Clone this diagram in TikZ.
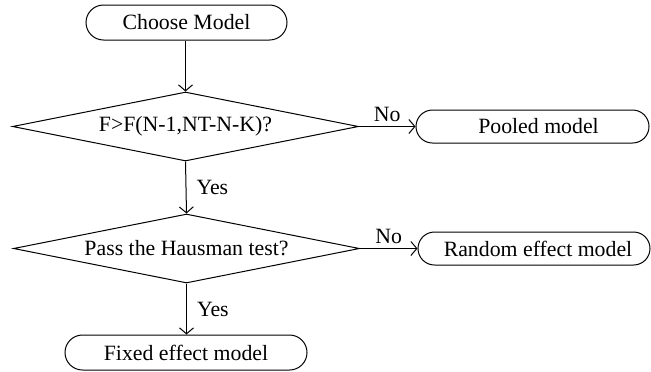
\documentclass[tikz,border=0pt]{standalone}
\usepackage{fontspec}
\setmainfont{Liberation Serif}
\usetikzlibrary{shapes.geometric,shapes.misc,arrows.meta}
\begin{document}
\begin{tikzpicture}[x=0.5pt,y=-0.5pt,
  every node/.style={font=\fontsize{10.9}{13}\selectfont},
  term/.style={draw,rounded rectangle,line width=0.5pt,inner sep=0pt},
  decision/.style={draw,diamond,aspect=5,line width=0.5pt,inner sep=0pt,
    minimum width=173pt,minimum height=34.5pt},
  flow/.style={draw,line width=0.5pt,-{Straight Barb[length=3pt,width=7pt]}},
  lbl/.style={inner sep=2pt}]
\useasboundingbox (0,0) rectangle (651,371);
\node[term,minimum width=100.5pt,minimum height=17.5pt] (start) at (186.5,22.5) {Choose Model};
\node[decision] (d1) at (185.5,126.5) {F>F(N-1,NT-N-K)?};
\node[term,minimum width=116.5pt,minimum height=16.5pt] (pooled) at (532.5,126.5) {\hspace{6pt}Pooled model};
\node[decision] (d2) at (186.5,248.5) {Pass the Hausman test?};
\node[term,minimum width=116pt,minimum height=16.5pt] (random) at (534,248.5) {\hspace{4pt}Random effect model};
\node[term,minimum width=121pt,minimum height=17.5pt] (fixed) at (186,352.5) {Fixed effect model};
\draw[flow] (start.south -| d1.north) -- (d1.north);
\draw[flow] (d1.east) -- node[lbl,above] {No} (pooled.west);
\draw[flow] (d1.south) -- node[lbl,right,xshift=3pt] {Yes} (d2.north);
\draw[flow] (d2.east) -- node[lbl,above] {No} (random.west);
\draw[flow] (d2.south) -- node[lbl,right,xshift=3pt] {Yes} (fixed.north -| d2.south);
\end{tikzpicture}
\end{document}
